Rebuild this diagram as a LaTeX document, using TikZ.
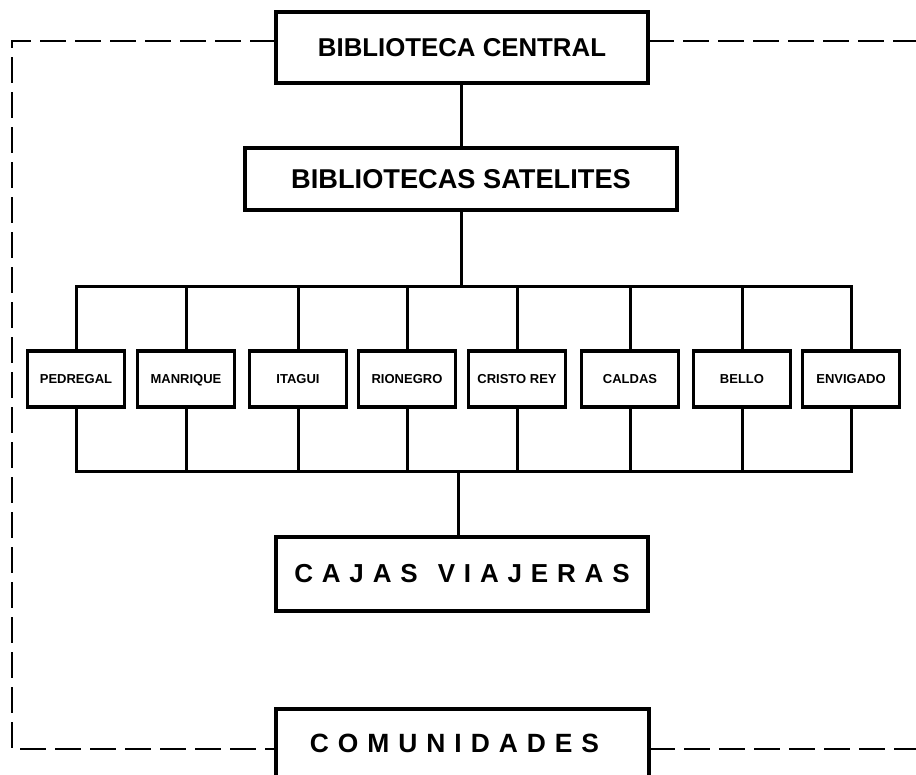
\documentclass[tikz,border=0pt]{standalone}
\usepackage{fontspec}
\setmainfont{Liberation Sans}
\usetikzlibrary{positioning}

\tikzset{
	bigbox/.style={draw, line width=3.2pt, minimum width=372pt, minimum height=71pt, inner sep=0pt, font=\fontsize{25.8}{28}\selectfont\bfseries},
	sitebox/.style={draw, line width=3.2pt, minimum width=97pt, minimum height=56pt, inner sep=0pt, text height=9.5pt, text depth=0pt, font=\fontsize{13}{15}\selectfont\bfseries},
	link/.style={line width=3pt},
	frame/.style={line width=2.4pt, dash pattern=on 23pt off 12pt}
}
\newcommand{\wide}{\addfontfeatures{LetterSpace=34}}

\begin{document}
\begin{tikzpicture}[line cap=rect,line join=miter,x=1pt,y=-1pt]
			\useasboundingbox (0,0) rectangle (916,775);
			\clip (0,0) rectangle (916,775);
			% main boxes
			\node[bigbox] (central) at (462,47.5) {BIBLIOTECA CENTRAL};
			\node[bigbox, minimum width=432pt, minimum height=62pt, font=\fontsize{27.2}{29}\selectfont\bfseries] (sat) at (461,179) {BIBLIOTECAS SATELITES};
			\node[bigbox, minimum height=74pt, font=\fontsize{26}{28}\selectfont\bfseries\wide] (cajas) at (462,574) {CAJAS\hspace{20pt}VIAJERAS};
			\node[bigbox, minimum width=373pt, minimum height=90pt, text depth=22pt, font=\fontsize{26.4}{28}\selectfont\bfseries\wide] (comun) at (462.5,754) {COMUNIDADES\kern16pt};
			% satellite libraries
			\node[sitebox] (ped) at (76,379) {PEDREGAL};
			\node[sitebox] (man) at (186,379) {MANRIQUE};
			\node[sitebox] (ita) at (298,379) {ITAGUI};
			\node[sitebox] (rio) at (407,379) {RIONEGRO};
			\node[sitebox] (cri) at (517,379) {CRISTO REY};
			\node[sitebox] (cal) at (630,379) {CALDAS};
			\node[sitebox] (bel) at (742,379) {BELLO};
			\node[sitebox] (env) at (851,379) {ENVIGADO};
			% buses
			\coordinate (topbus) at (0,287);
			\coordinate (botbus) at (0,472);
			\draw[link] (sat.north) -- (sat.north |- central.south);
			\draw[link] (sat.south) -- (sat.south |- topbus);
			\draw[link] (ped.north) -- (ped |- topbus) -- (env |- topbus) -- (env.north);
			\draw[link] (man.north) -- (man |- topbus);
			\draw[link] (ita.north) -- (ita |- topbus);
			\draw[link] (rio.north) -- (rio |- topbus);
			\draw[link] (cri.north) -- (cri |- topbus);
			\draw[link] (cal.north) -- (cal |- topbus);
			\draw[link] (bel.north) -- (bel |- topbus);
			\draw[link] (ped.south) -- (ped |- botbus) -- (env |- botbus) -- (env.south);
			\draw[link] (man.south) -- (man |- botbus);
			\draw[link] (ita.south) -- (ita |- botbus);
			\draw[link] (rio.south) -- (rio |- botbus);
			\draw[link] (cri.south) -- (cri |- botbus);
			\draw[link] (cal.south) -- (cal |- botbus);
			\draw[link] (bel.south) -- (bel |- botbus);
			\draw[link] ([xshift=-4pt]cajas.north) -- ([xshift=-4pt]cajas.north |- botbus);
			% dashed frame
			\coordinate (nw) at (12,41);
			\coordinate (sw) at (12,749);
			\coordinate (ne) at (916,41);
			\coordinate (se) at (916,749);
			\draw[frame] (central.west |- nw) -- (nw) -- (sw) -- (comun.west |- sw);
			\draw[frame] (central.east |- ne) -- (ne);
			\draw[frame] (comun.east |- se) -- (se);
		\end{tikzpicture}
\end{document}
